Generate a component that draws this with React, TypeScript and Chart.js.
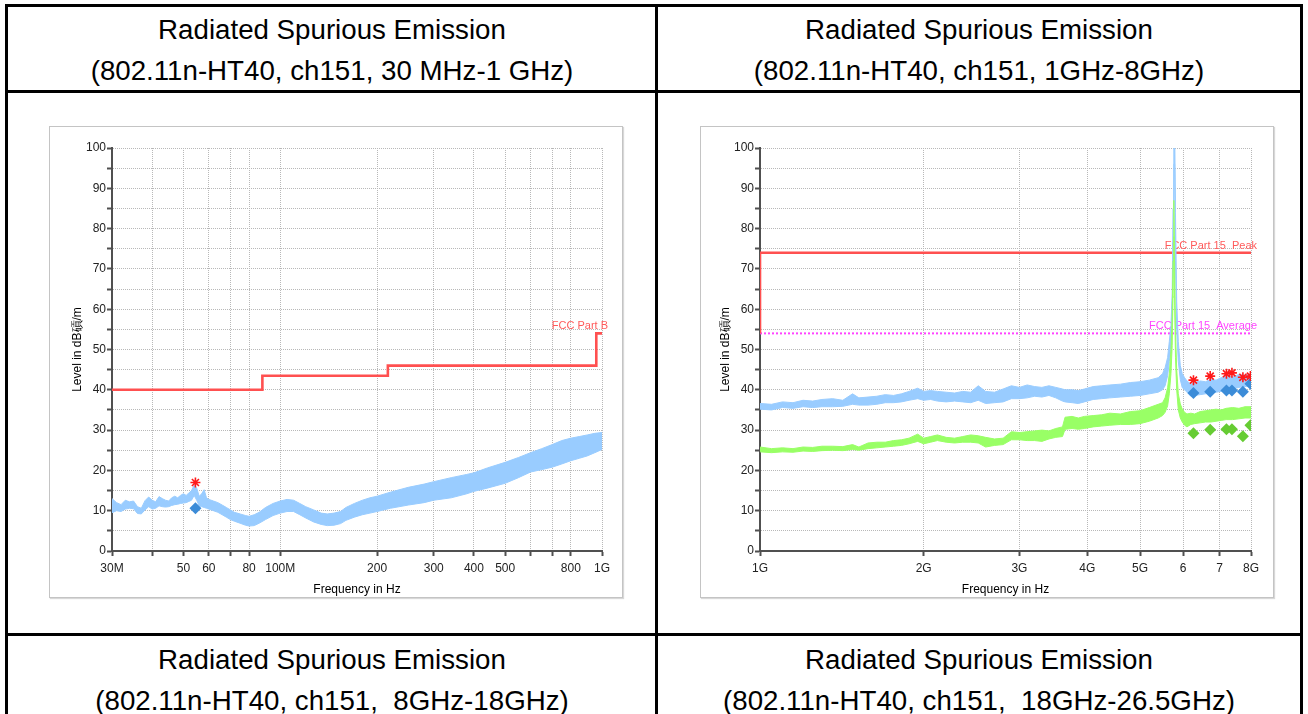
import React, { useEffect, useRef } from 'react';
import { Chart, registerables } from 'chart.js';

Chart.register(...registerables);

const FONT = "'Liberation Sans', Arial, Helvetica, sans-serif";
Chart.defaults.font.family = FONT;

// ---------------- Table texts ----------------
const cellTitle = 'Radiated Spurious Emission';
const topLeftSub = '(802.11n-HT40, ch151, 30 MHz-1 GHz)';
const topRightSub = '(802.11n-HT40, ch151, 1GHz-8GHz)';
const bottomLeftSub = '(802.11n-HT40, ch151,  8GHz-18GHz)';
const bottomRightSub = '(802.11n-HT40, ch151,  18GHz-26.5GHz)';
const xTitle = 'Frequency in Hz';
const yTitle = 'Level in dB碽/m';

// ---------------- Left chart: 30 MHz - 1 GHz ----------------
const lowFreqMHz = [
  30, 31, 32, 33, 34, 35, 36, 37, 38, 39, 40, 41, 42, 43, 44, 45, 46, 47, 48, 49, 50, 51, 52, 53, 54, 55, 56, 57, 58, 59, 60,
  62, 64, 66, 68, 70, 72, 75, 78, 80, 83, 86, 90, 95,
  100, 105, 110, 115, 120, 127, 134, 140, 147, 154, 160, 170, 180, 190,
  200, 220, 250, 280, 300, 340, 380, 400, 440, 500,
  550, 600, 650, 700, 750, 800, 850, 900, 950, 1000,
];
const lowPeakHi = [
  13.0, 12.0, 11.5, 12.6, 12.2, 12.4, 11.0, 10.6, 12.5, 13.4, 12.6, 12.2, 13.5, 13.0, 12.6, 12.4, 13.2, 13.6, 13.2, 13.8, 14.2, 13.8, 14.4, 15.0, 16.3, 15.6, 13.6, 14.2, 15.2, 13.2, 12.8,
  12.4, 12.0, 11.4, 10.8, 10.2, 9.6, 9.2, 8.8, 8.6, 9.0, 9.6, 10.8, 11.8,
  12.4, 12.8, 12.6, 11.8, 11.0, 10.2, 9.4, 9.2, 9.4, 9.8, 10.8, 11.8, 12.6, 13.2,
  13.6, 14.6, 15.8, 16.6, 17.2, 18.2, 19.0, 19.4, 20.6, 22.0,
  23.2, 24.4, 25.4, 26.4, 27.4, 28.0, 28.4, 28.8, 29.2, 29.4,
];
const lowPeakLo = [
  9.5, 10.0, 9.8, 10.4, 10.6, 10.5, 9.3, 9.2, 10.2, 11.0, 10.4, 10.6, 11.2, 11.0, 10.9, 11.0, 11.3, 11.5, 11.6, 11.8, 11.9, 12.0, 12.3, 12.6, 13.8, 12.6, 11.2, 11.0, 10.8, 10.6, 10.4,
  10.0, 9.6, 9.0, 8.4, 7.8, 7.4, 6.9, 6.4, 6.2, 6.3, 6.9, 7.8, 8.8,
  9.4, 9.8, 9.8, 9.0, 8.2, 7.2, 6.6, 6.3, 6.4, 6.8, 7.6, 8.4, 9.0, 9.4,
  9.8, 10.6, 11.4, 12.0, 12.6, 13.2, 14.2, 14.8, 15.6, 16.8,
  18.2, 19.6, 20.2, 20.8, 21.6, 22.4, 23.0, 23.6, 24.4, 25.2,
];
const lowLimitFreqMHz = [30, 88, 216, 960, 1000];
const lowLimitLevel = [40, 43.5, 46, 54, 54];
const lowMarkerFreqMHz = [54.5];
const lowMarkerPeak = [17.0];
const lowMarkerQP = [10.6];
const lowTickMHz = [30, 40, 50, 60, 70, 80, 100, 200, 300, 400, 500, 600, 700, 800, 1000];
const lowTickLabels = ['30M', '', '50', '60', '', '80', '100M', '200', '300', '400', '500', '', '', '800', '1G'];

// ---------------- Right chart: 1 GHz - 8 GHz ----------------
const highFreqGHz = [
  1.0, 1.05, 1.1, 1.15, 1.2, 1.25, 1.3, 1.36, 1.42, 1.48, 1.52, 1.58, 1.64, 1.7, 1.76, 1.82, 1.88, 1.95, 2.0,
  2.06, 2.12, 2.2, 2.28, 2.36, 2.44, 2.52, 2.6, 2.7, 2.8, 2.9, 3.0,
  3.1, 3.2, 3.3, 3.4, 3.5, 3.6, 3.64, 3.75, 3.85, 3.95, 4.1, 4.25, 4.4, 4.6, 4.8, 5.0, 5.2,
  5.4, 5.5, 5.56, 5.62, 5.66, 5.7, 5.73, 5.75, 5.77, 5.79, 5.81, 5.84, 5.88, 5.93, 5.98, 6.04, 6.1,
  6.2, 6.3, 6.45, 6.6, 6.75, 6.9, 7.05, 7.2, 7.4, 7.6, 7.8, 8.0,
];
const highPeakHi = [
  36.6, 36.4, 37.0, 36.8, 37.4, 37.2, 37.6, 37.8, 37.4, 39.0, 38.0, 38.2, 38.4, 38.8, 38.6, 39.0, 39.6, 40.4, 39.6,
  39.8, 39.6, 39.4, 39.2, 39.6, 39.4, 41.0, 39.6, 39.4, 40.2, 41.0, 40.6,
  41.2, 40.8, 40.6, 41.0, 40.6, 40.2, 40.0, 40.0, 39.8, 40.2, 40.8, 41.0, 41.2, 41.4, 41.8, 42.0, 42.4,
  43.0, 44.0, 45.5, 48.0, 52.0, 56.0, 64.0, 85.0, 106, 106, 84, 62, 52, 46, 44, 43.0, 42.2,
  41.4, 41.8, 42.2, 42.0, 42.6, 42.4, 43.0, 43.4, 43.2, 43.8, 43.6, 44.0,
];
const highPeakLo = [
  35.2, 35.0, 35.6, 35.4, 35.8, 35.6, 35.8, 35.8, 35.9, 36.4, 36.2, 36.2, 36.4, 36.8, 36.8, 37.0, 37.4, 37.8, 37.4,
  37.6, 37.2, 37.0, 37.2, 37.0, 36.8, 37.4, 36.6, 36.8, 37.0, 37.8, 37.8,
  38.0, 38.4, 38.2, 38.6, 38.0, 37.2, 37.0, 36.8, 36.6, 37.0, 37.6, 37.8, 38.0, 38.2, 38.4, 38.6, 39.0,
  39.4, 40.0, 41.0, 43.5, 47.0, 50.0, 57.0, 74.0, 96, 96, 72, 55, 47, 42.5, 40.5, 40.0, 39.4,
  38.4, 38.6, 38.8, 39.0, 39.2, 39.4, 39.6, 40.0, 40.2, 40.6, 40.8, 41.0,
];
const highAvgHi = [
  25.8, 25.4, 25.6, 25.4, 25.8, 25.7, 26.0, 26.0, 25.9, 26.4, 25.8, 26.8, 27.0, 27.0, 27.4, 27.6, 28.0, 29.0, 28.0,
  28.4, 28.8, 28.2, 28.0, 28.4, 28.8, 28.6, 28.2, 27.8, 28.0, 29.6, 29.4,
  29.6, 29.8, 30.0, 29.8, 30.4, 30.8, 33.2, 33.4, 33.0, 33.4, 33.6, 33.8, 34.2, 34.0, 34.6, 34.8, 35.6,
  36.4, 36.8, 38.0, 40.5, 44.0, 50.0, 58.0, 72.0, 87.0, 70.0, 55.0, 45.0, 39.0, 36.5, 35.2, 34.4, 34.0,
  34.2, 34.0, 34.6, 34.8, 35.0, 35.2, 35.0, 35.4, 35.6, 35.4, 35.8, 35.8,
];
const highAvgLo = [
  24.6, 24.4, 24.6, 24.5, 24.8, 24.7, 24.9, 25.0, 24.9, 25.2, 25.0, 25.4, 25.6, 25.8, 26.0, 26.2, 26.6, 27.2, 26.6,
  27.0, 27.4, 27.0, 26.8, 27.0, 27.0, 26.8, 25.8, 26.2, 26.4, 27.6, 27.6,
  27.4, 27.4, 27.2, 27.8, 28.2, 28.4, 30.2, 30.4, 30.2, 30.4, 30.8, 31.0, 31.2, 31.4, 31.4, 31.6, 32.2,
  33.0, 33.6, 34.4, 36.0, 39.0, 44.0, 51.0, 63.0, 78.0, 61.0, 48.0, 40.0, 35.0, 33.0, 32.0, 31.2, 30.8,
  31.4, 31.6, 31.8, 32.0, 32.0, 32.2, 32.4, 32.6, 32.6, 32.8, 33.0, 33.0,
];
const highPeakLimitGHz = [1, 1, 8];
const highPeakLimitLevel = [54, 74, 74];
const highAvgLimitGHz = [1, 8];
const highAvgLimitLevel = [54, 54];
const highMarkerGHz = [6.27, 6.73, 7.21, 7.38, 7.73, 7.98];
const highMarkerPeak = [42.4, 43.4, 44.0, 44.2, 43.1, 43.4];
const highMarkerPeakQ = [39.2, 39.5, 39.8, 39.8, 39.5, 41.5];
const highMarkerAvg = [29.2, 30.1, 30.2, 30.2, 28.5, 31.2];
const highTickGHz = [1, 2, 3, 4, 5, 6, 7, 8];
const highTickLabels = ['1G', '2G', '3G', '4G', '5G', '6', '7', '8G'];

// ---------------- Styles ----------------
const BLUE = '#99ccff';
const GREEN = '#99ff66';
const DIAMOND_BLUE = '#3c8cd8';
const DIAMOND_GREEN = '#66cc33';
const RED = '#ff5050';
const MAGENTA = '#ff44ff';
const STAR_RED = '#ff1a1a';
const GRID = '#b8b8b8';
const AXIS = '#505050';

const pts = (xs: number[], ys: number[]) => xs.map((x, i) => ({ x, y: ys[i] }));

const labelFor = (ticks: number[], labels: string[], v: number) => {
  const i = ticks.findIndex((t) => Math.abs(t - v) < t * 1e-6);
  return i >= 0 ? labels[i] : '';
};

const limitLabelPlugin = {
  id: 'limitLabels',
  beforeDatasetsDraw(chart: any, _args: any, opts: any) {
    const { ctx, scales } = chart;
    (opts.items || []).forEach((it: any) => {
      ctx.save();
      ctx.font = `11px ${FONT}`;
      ctx.fillStyle = it.color;
      ctx.textAlign = 'right';
      ctx.textBaseline = 'alphabetic';
      ctx.fillText(it.text, scales.x.getPixelForValue(it.x) + 6, scales.y.getPixelForValue(it.y) - 4);
      ctx.restore();
    });
  },
};

type Cfg = {
  xMin: number;
  xMax: number;
  ticks: number[];
  tickLabels: string[];
  yAxisWidth: number;
  xAxisHeight: number;
  padRight: number;
  padTop: number;
  yTitlePad: number;
  labels: any[];
};

function makeOptions(cfg: Cfg) {
  return {
    animation: false,
    responsive: false,
    maintainAspectRatio: false,
    devicePixelRatio: 1,
    events: [],
    layout: { padding: { left: 0, right: cfg.padRight, top: cfg.padTop, bottom: 0 } },
    plugins: {
      legend: { display: false },
      tooltip: { enabled: false },
      limitLabels: { items: cfg.labels },
    },
    elements: { point: { radius: 0 }, line: { tension: 0 } },
    scales: {
      x: {
        type: 'logarithmic',
        min: cfg.xMin,
        max: cfg.xMax,
        afterBuildTicks: (s: any) => {
          s.ticks = cfg.ticks.map((v) => ({ value: v }));
        },
        afterFit: (s: any) => {
          s.height = cfg.xAxisHeight;
        },
        ticks: {
          autoSkip: false,
          maxRotation: 0,
          minRotation: 0,
          padding: 5,
          color: '#222',
          font: { family: FONT, size: 12 },
          callback: (v: any) => labelFor(cfg.ticks, cfg.tickLabels, Number(v)),
        },
        grid: { color: GRID, lineWidth: 1, drawTicks: true, tickLength: 5, tickWidth: 2, tickColor: AXIS },
        border: { display: true, color: AXIS, width: 2, dash: [1, 1] },
        title: {
          display: true,
          text: xTitle,
          color: '#000',
          font: { family: FONT, size: 12 },
          padding: { top: 0, bottom: 0 },
        },
      },
      y: {
        min: 0,
        max: 100,
        afterFit: (s: any) => {
          s.width = cfg.yAxisWidth;
        },
        ticks: {
          stepSize: 5,
          autoSkip: false,
          padding: 1,
          color: '#222',
          font: { family: FONT, size: 12 },
          callback: (v: any) => (Number(v) % 10 === 0 ? String(v) : ''),
        },
        grid: { color: GRID, lineWidth: 1, drawTicks: true, tickLength: 5, tickWidth: 2, tickColor: AXIS },
        border: { display: true, color: AXIS, width: 2, dash: [1, 1] },
        title: {
          display: true,
          text: yTitle,
          color: '#000',
          font: { family: FONT, size: 12 },
          padding: { top: cfg.yTitlePad, bottom: 0 },
        },
      },
    },
  };
}

const lineDs = (label: string, data: any[], color: string, width: number, extra: any = {}) => ({
  label,
  data,
  borderColor: color,
  backgroundColor: color,
  borderWidth: width,
  pointRadius: 0,
  fill: false,
  ...extra,
});

const diamondDs = (label: string, data: any[], color: string) => ({
  label,
  data,
  showLine: false,
  pointStyle: 'rectRot',
  pointRadius: 6,
  pointBackgroundColor: color,
  pointBorderColor: color,
  pointBorderWidth: 0,
  order: 0,
});

const starDs = (label: string, data: any[]) => ({
  label,
  data,
  showLine: false,
  pointStyle: 'star',
  pointRadius: 5,
  pointBorderColor: STAR_RED,
  pointBackgroundColor: STAR_RED,
  pointBorderWidth: 1.6,
  order: 0,
});

function buildLowChart() {
  return {
    type: 'line',
    data: {
      datasets: [
        starDs('Peak marker', pts(lowMarkerFreqMHz, lowMarkerPeak)),
        diamondDs('QP marker', pts(lowMarkerFreqMHz, lowMarkerQP), DIAMOND_BLUE),
        lineDs('Peak lo', pts(lowFreqMHz, lowPeakLo), BLUE, 1, { order: 2 }),
        lineDs('Peak hi', pts(lowFreqMHz, lowPeakHi), BLUE, 1, { order: 2, fill: '-1' }),
        lineDs('FCC Part B', pts(lowLimitFreqMHz, lowLimitLevel), RED, 2.6, { order: 3, stepped: 'before' }),
      ],
    },
    options: makeOptions({
      xMin: 30,
      xMax: 1000,
      ticks: lowTickMHz,
      tickLabels: lowTickLabels,
      yAxisWidth: 62,
      xAxisHeight: 46,
      padRight: 20,
      padTop: 22,
      yTitlePad: 20,
      labels: [{ text: 'FCC Part B', x: 1000, y: 54, color: '#ff5a5a' }],
    }),
    plugins: [limitLabelPlugin],
  };
}

function buildHighChart() {
  return {
    type: 'line',
    data: {
      datasets: [
        starDs('Peak marker', pts(highMarkerGHz, highMarkerPeak)),
        diamondDs('Peak final', pts(highMarkerGHz, highMarkerPeakQ), DIAMOND_BLUE),
        diamondDs('Avg final', pts(highMarkerGHz, highMarkerAvg), DIAMOND_GREEN),
        lineDs('Avg lo', pts(highFreqGHz, highAvgLo), GREEN, 1, { order: 1 }),
        lineDs('Avg hi', pts(highFreqGHz, highAvgHi), GREEN, 1, { order: 1, fill: '-1' }),
        lineDs('Peak lo', pts(highFreqGHz, highPeakLo), BLUE, 1, { order: 2 }),
        lineDs('Peak hi', pts(highFreqGHz, highPeakHi), BLUE, 1, { order: 2, fill: '-1' }),
        lineDs('FCC Part 15 Peak', pts(highPeakLimitGHz, highPeakLimitLevel), RED, 2.6, { order: 3 }),
        lineDs('FCC Part 15 Average', pts(highAvgLimitGHz, highAvgLimitLevel), MAGENTA, 2, {
          order: 3,
          borderDash: [2, 2],
        }),
      ],
    },
    options: makeOptions({
      xMin: 1,
      xMax: 8,
      ticks: highTickGHz,
      tickLabels: highTickLabels,
      yAxisWidth: 60,
      xAxisHeight: 46,
      padRight: 22,
      padTop: 22,
      yTitlePad: 18,
      labels: [
        { text: 'FCC Part 15  Peak', x: 8, y: 74, color: '#ff5a5a' },
        { text: 'FCC Part 15  Average', x: 8, y: 54, color: MAGENTA },
      ],
    }),
    plugins: [limitLabelPlugin],
  };
}

function ChartCanvas(props: { left: number; top: number; width: number; height: number; build: () => any }) {
  const ref = useRef<HTMLCanvasElement | null>(null);
  const { left, top, width, height, build } = props;
  useEffect(() => {
    if (!ref.current) return;
    const chart = new Chart(ref.current, build());
    return () => chart.destroy();
  }, [build]);
  return (
    <canvas
      ref={ref}
      width={width}
      height={height}
      style={{ position: 'absolute', left, top, width, height, display: 'block' }}
    />
  );
}

const BORDER = 3;

function HLine({ y }: { y: number }) {
  return <div style={{ position: 'absolute', left: 5, top: y, width: 1298, height: BORDER, background: '#000' }} />;
}
function VLine({ x }: { x: number }) {
  return <div style={{ position: 'absolute', left: x, top: 4, width: BORDER, height: 720, background: '#000' }} />;
}

function CellText({ left, width, top, lines }: { left: number; width: number; top: number; lines: string[] }) {
  return (
    <div
      style={{
        position: 'absolute',
        left,
        width,
        top,
        textAlign: 'center',
        fontFamily: FONT,
        fontSize: 27.7,
        lineHeight: '40.5px',
        color: '#000',
        whiteSpace: 'pre',
      }}
    >
      {lines.map((l, i) => (
        <div key={i}>{l}</div>
      ))}
    </div>
  );
}

function PanelFrame({ left, top }: { left: number; top: number }) {
  return (
    <div
      style={{
        position: 'absolute',
        left,
        top,
        width: 574,
        height: 472,
        boxSizing: 'border-box',
        border: '1px solid #c4c4c4',
        boxShadow: '1px 1px 1px #d8d8d8',
        background: '#fff',
      }}
    />
  );
}

export default function App() {
  return (
    <div
      style={{
        position: 'absolute',
        left: 0,
        top: 0,
        width: 1308,
        height: 714,
        overflow: 'hidden',
        background: '#fff',
      }}
    >
      <CellText left={8} width={648} top={10} lines={[cellTitle, topLeftSub]} />
      <CellText left={658} width={642} top={10} lines={[cellTitle, topRightSub]} />
      <CellText left={8} width={648} top={640} lines={[cellTitle, bottomLeftSub]} />
      <CellText left={658} width={642} top={640} lines={[cellTitle, bottomRightSub]} />

      <PanelFrame left={49} top={126} />
      <PanelFrame left={700} top={126} />
      <ChartCanvas left={50} top={126} width={572} height={471} build={buildLowChart} />
      <ChartCanvas left={700} top={126} width={573} height={471} build={buildHighChart} />

      <HLine y={4} />
      <HLine y={90} />
      <HLine y={633} />
      <VLine x={5} />
      <VLine x={655} />
      <VLine x={1300} />
    </div>
  );
}
